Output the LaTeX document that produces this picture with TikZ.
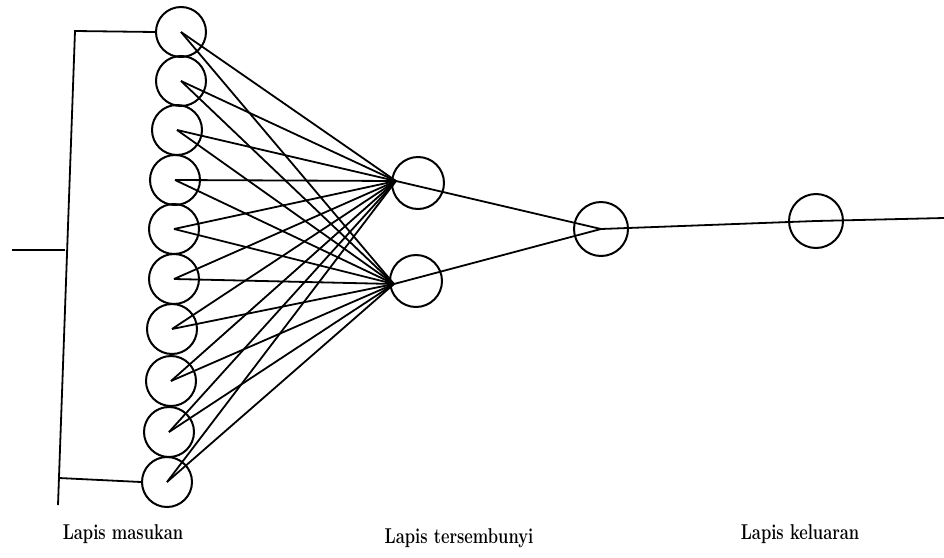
\documentclass[tikz,border=0pt]{standalone}
\begin{document}
\tikzset{
  neuron/.style={circle,draw,line width=2pt,minimum size=50pt,inner sep=0pt},
  wire/.style={line width=1.8pt},
  lab/.style={font=\fontsize{16.5}{20}\selectfont\bfseries,inner sep=0pt}
}
\newcommand\tallbox[1]{\scalebox{1}[1.3]{#1}}
\begin{tikzpicture}[x=1pt,y=-1pt]
\useasboundingbox (0,0) rectangle (944,557);
% input layer
\foreach \i/\x/\y in {1/181/32,2/181/81,3/177/130,4/175/180,5/174/229,6/174/279,7/172/329,8/171/381,9/169/432,10/167/482}
  \node[neuron] (i\i) at (\x,\y) {};
% hidden layer
\node[neuron,minimum size=52pt] (h1) at (418,183) {};
\node[neuron,minimum size=52pt] (h2) at (416,281) {};
\coordinate (c1) at (396,181);
\coordinate (c2) at (394,284);
% output layer
\node[neuron,minimum size=54pt] (o) at (601,229) {};
\node[neuron,minimum size=54pt] (e) at (816,221) {};
\coordinate (rend) at (944,218);
% bracket
\coordinate (bt) at (75,31);
\coordinate (bb) at (58,505);
\coordinate (bm) at (65,250);
\coordinate (bl) at (59,478);
\coordinate (inp) at (12,250);
\draw[wire] (i1.west) -- (bt) -- (bb);
\draw[wire] (inp) -- (bm);
\draw[wire] (bl) -- (i10.west);
% connections
\foreach \i in {1,...,10} {
  \draw[wire] (i\i.center) -- (c1);
  \draw[wire] (i\i.center) -- (c2);
}
\draw[wire] (c1) -- (o.center);
\draw[wire] (c2) -- (o.center);
\draw[wire] (o.center) -- (e.center) -- (rend);
% labels
\node[lab] (l1) at (123,534) {\tallbox{Lapis masukan}};
\node[lab] (l2) at (459,538) {\tallbox{Lapis tersembunyi}};
\node[lab] (l3) at (800,534) {\tallbox{Lapis keluaran}};
\end{tikzpicture}
\end{document}
